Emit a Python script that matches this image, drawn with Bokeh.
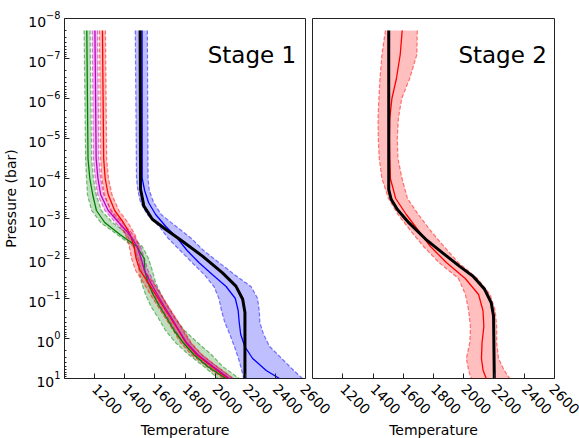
from bokeh.plotting import figure
from bokeh.layouts import row
from bokeh.models import Range1d, FixedTicker, Label
from bokeh.embed import file_html
from bokeh.resources import INLINE

# ---------------- data (log10 pressure in bar, temperature in K) ----------------
T_TICKS = [1200, 1400, 1600, 1800, 2000, 2200, 2400, 2600]
LOGP_TICKS = [-8, -7, -6, -5, -4, -3, -2, -1, 0, 1]

# Stage 1: three cool retrievals (green, magenta, red) on a common grid
s1_grid_logp = [-7.7, -4.5, -4.0, -3.6, -3.2, -2.9, -2.6, -2.3, -2.0, -1.7,
                -1.4, -1.1, -0.8, -0.5, -0.2, 0.1, 0.4, 0.7, 1.0]
s1_green_t = [1148, 1156, 1168, 1187, 1212, 1267, 1368, 1480, 1529, 1533,
              1554, 1588, 1631, 1681, 1728, 1787, 1858, 1951, 2070]
s1_green_lo = [1130, 1140, 1146, 1152, 1180, 1240, 1349, 1457, 1479, 1495,
               1511, 1538, 1574, 1624, 1671, 1736, 1823, 1925, 2020]
s1_green_hi = [1170, 1180, 1192, 1210, 1245, 1318, 1424, 1517, 1558, 1583,
               1605, 1642, 1683, 1735, 1797, 1883, 1975, 2050, 2160]
s1_magenta_t = [1202, 1210, 1222, 1240, 1290, 1360, 1433, 1482, 1509, 1531,
                1571, 1616, 1663, 1713, 1761, 1810, 1884, 1986, 2095]
s1_magenta_lo = [1184, 1192, 1204, 1220, 1268, 1337, 1410, 1460, 1487, 1508,
                 1547, 1592, 1638, 1688, 1736, 1785, 1859, 1961, 2070]
s1_magenta_hi = [1220, 1228, 1240, 1260, 1312, 1383, 1456, 1504, 1531, 1554,
                 1595, 1640, 1688, 1738, 1786, 1835, 1909, 2011, 2120]
s1_red_t = [1252, 1260, 1270, 1290, 1333, 1391, 1436, 1462, 1475, 1502,
            1555, 1605, 1655, 1706, 1757, 1805, 1876, 1978, 2085]
s1_red_lo = [1232, 1240, 1248, 1265, 1305, 1361, 1404, 1430, 1445, 1472,
             1523, 1570, 1620, 1671, 1722, 1770, 1841, 1943, 2050]
s1_red_hi = [1272, 1280, 1292, 1315, 1361, 1421, 1468, 1494, 1505, 1532,
             1587, 1640, 1690, 1741, 1792, 1840, 1911, 2013, 2120]

# Stage 1: hot retrieval (blue)
s1_blue_logp = [-7.7, -4.0, -3.7, -3.4, -3.1, -2.8, -2.5, -2.2, -1.9, -1.6,
                -1.3, -1.0, -0.7, -0.4, -0.1, 0.2, 0.5, 0.8, 1.0]
s1_blue_t = [1515, 1516, 1532, 1558, 1605, 1673, 1751, 1814, 1892, 1981,
             2073, 2134, 2153, 2160, 2170, 2197, 2249, 2339, 2427]
s1_blue_lo = [1470, 1478, 1487, 1505, 1550, 1629, 1689, 1768, 1846, 1927,
              1992, 2025, 2042, 2064, 2098, 2128, 2155, 2177, 2190]
s1_blue_hi = [1550, 1555, 1563, 1592, 1642, 1742, 1843, 1923, 2025, 2128,
              2238, 2282, 2293, 2297, 2322, 2362, 2442, 2522, 2580]

# Stage 1: true profile (black)
s1_true_logp = [-7.7, -3.73, -3.31, -2.98, -2.73, -2.43, -2.06, -1.64, -1.31,
                -0.98, -0.65, 1.0]
s1_true_t = [1502, 1505, 1527, 1583, 1671, 1783, 1916, 2049, 2138, 2183, 2198, 2198]

# Stage 2: retrieval (red)
s2_grid_logp = [-7.7, -7.1, -6.5, -6.0, -5.5, -5.0, -4.5, -4.0, -3.5, -3.1,
                -2.7, -2.3, -1.9, -1.5, -1.1, -0.7, -0.3, 0.1, 0.5, 0.8, 1.0]
s2_red_t = [1593, 1580, 1555, 1525, 1511, 1509, 1511, 1515, 1550, 1620,
            1700, 1780, 1885, 2010, 2098, 2127, 2133, 2121, 2117, 2128, 2149]
s2_red_lo = [1482, 1459, 1446, 1439, 1433, 1435, 1441, 1459, 1502, 1565,
             1647, 1734, 1836, 1965, 2011, 2032, 2044, 2040, 2017, 2032, 2049]
s2_red_hi = [1693, 1690, 1643, 1590, 1568, 1561, 1565, 1592, 1628, 1700,
             1780, 1869, 1964, 2091, 2174, 2208, 2218, 2218, 2230, 2268, 2304]

# Stage 2: true profile (black)
s2_true_logp = [-7.7, -3.72, -3.48, -3.23, -2.89, -2.48, -2.14, -1.81, -1.56,
                -1.23, -0.89, -0.56, 1.0]
s2_true_t = [1504, 1504, 1520, 1560, 1638, 1749, 1860, 1971, 2060, 2138, 2182, 2197, 2202]

FONT = "DejaVu Sans"


def P(logp):
    return [10.0 ** v for v in logp]


def make_fig(frame_w, left_border, right_border, show_y):
    p = figure(frame_width=frame_w, frame_height=360,
               x_range=Range1d(1000, 2600), y_range=Range1d(10, 1e-8),
               y_axis_type="log", output_backend="svg", toolbar_location=None,
               min_border_left=left_border, min_border_right=right_border,
               min_border_top=18, min_border_bottom=0)
    p.grid.visible = False
    p.outline_line_color = "#222222"
    p.outline_line_width = 1
    p.background_fill_color = "white"
    p.border_fill_color = "white"

    p.xaxis.ticker = FixedTicker(ticks=T_TICKS)
    p.yaxis.ticker = FixedTicker(ticks=[10.0 ** e for e in LOGP_TICKS],
                                 minor_ticks=[m * 10.0 ** e for e in LOGP_TICKS[:-1]
                                              for m in range(2, 10)])
    for ax in p.xaxis + p.yaxis:
        ax.axis_line_color = None
        ax.major_tick_in = 5
        ax.major_tick_out = 0
        ax.minor_tick_in = 2
        ax.minor_tick_out = 0
        ax.major_tick_line_color = "#222222"
        ax.minor_tick_line_color = "#222222"
        ax.major_label_text_font = FONT
        ax.major_label_text_font_size = "14px"
        ax.major_label_text_color = "black"
        ax.axis_label_text_font = FONT
        ax.axis_label_text_font_size = "14px"
        ax.axis_label_text_font_style = "normal"
        ax.axis_label_text_color = "black"
    p.xaxis.major_label_orientation = -0.785398
    p.xaxis.axis_label = "Temperature"
    p.xaxis.axis_label_standoff = 0
    p.xaxis.major_label_standoff = 8
    if show_y:
        p.yaxis.axis_label = "Pressure (bar)"
        p.yaxis.axis_label_standoff = 6
        p.yaxis.major_label_standoff = 4
    else:
        p.yaxis.visible = False
    return p


def band(p, logp, lo, hi, color):
    pp = P(logp)
    p.harea(y=pp, x1=lo, x2=hi, fill_color=color, fill_alpha=0.25)
    p.line(lo, pp, line_color=color, line_alpha=0.5, line_dash="4 2", line_width=1.2)
    p.line(hi, pp, line_color=color, line_alpha=0.5, line_dash="4 2", line_width=1.2)


GREEN, MAGENTA, RED, BLUE = "#008000", "#bf00bf", "#ff0000", "#0000ff"

# ---------------- Stage 1 ----------------
p1 = make_fig(241, 61, 26, True)
p1.styles = {"flex-shrink": "0"}
band(p1, s1_grid_logp, s1_green_lo, s1_green_hi, GREEN)
band(p1, s1_grid_logp, s1_magenta_lo, s1_magenta_hi, MAGENTA)
band(p1, s1_grid_logp, s1_red_lo, s1_red_hi, RED)
band(p1, s1_blue_logp, s1_blue_lo, s1_blue_hi, BLUE)
p1.line(s1_green_t, P(s1_grid_logp), line_color=GREEN, line_width=1.3)
p1.line(s1_red_t, P(s1_grid_logp), line_color=RED, line_width=1.3)
p1.line(s1_magenta_t, P(s1_grid_logp), line_color=MAGENTA, line_width=1.3)
p1.line(s1_blue_t, P(s1_blue_logp), line_color=BLUE, line_width=1.3)
p1.line(s1_true_t, P(s1_true_logp), line_color="black", line_width=3)
p1.add_layout(Label(x=2538, y=10 ** -7.1, text="Stage 1", text_align="right",
                    text_baseline="alphabetic", text_font=FONT,
                    text_font_size="23px", text_color="black"))

# ---------------- Stage 2 ----------------
p2 = make_fig(242, 0, 26, False)
p2.border_fill_alpha = 0
p2.styles = {"flex-shrink": "0", "margin-left": "-19px"}
band(p2, s2_grid_logp, s2_red_lo, s2_red_hi, RED)
p2.line(s2_red_t, P(s2_grid_logp), line_color=RED, line_width=1.3)
p2.line(s2_true_t, P(s2_true_logp), line_color="black", line_width=3)
p2.add_layout(Label(x=2549, y=10 ** -7.1, text="Stage 2", text_align="right",
                    text_baseline="alphabetic", text_font=FONT,
                    text_font_size="23px", text_color="black"))

layout = row(p1, p2, spacing=0)
open("out.html", "w").write(file_html(layout, INLINE))
